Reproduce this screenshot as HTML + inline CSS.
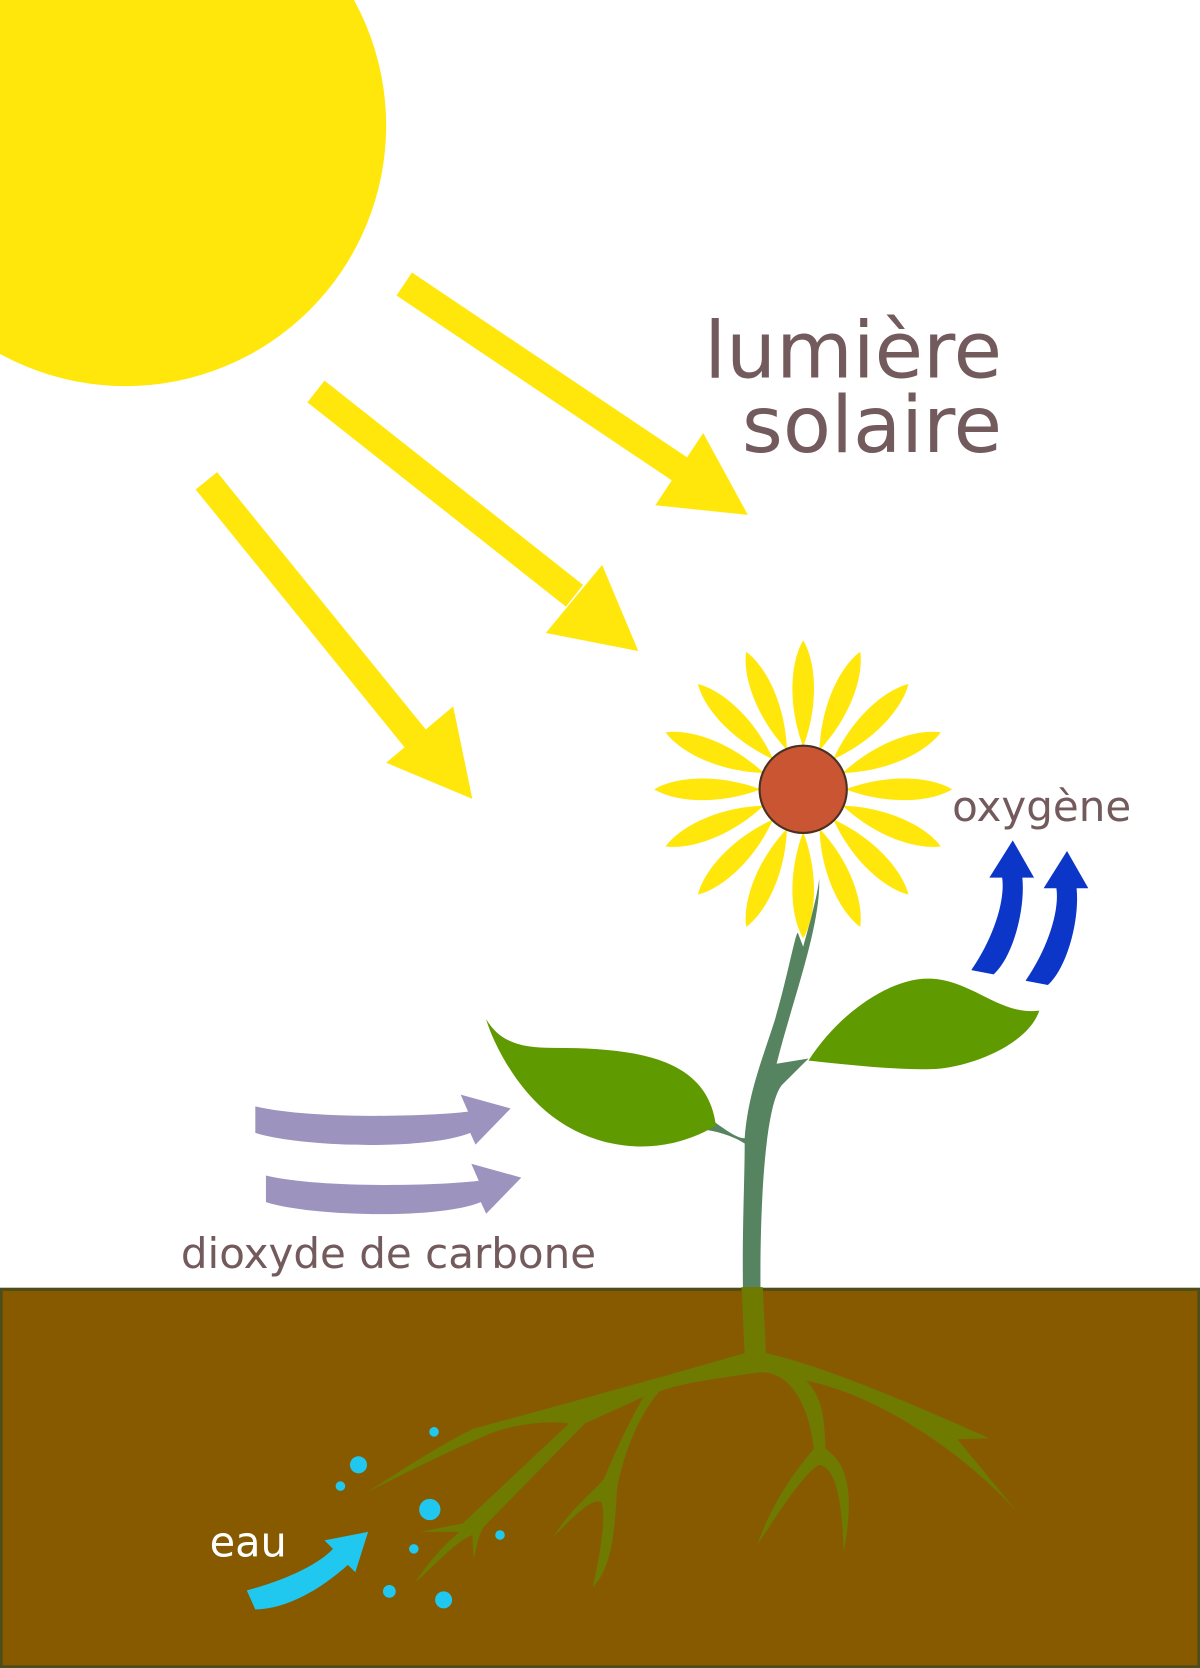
<!DOCTYPE html>
<html><head><meta charset="utf-8"><style>html,body{margin:0;padding:0;background:#fff}svg{display:block}</style></head>
<body>
<svg width="1200" height="1668" viewBox="0 0 1128 1568" preserveAspectRatio="none" xmlns="http://www.w3.org/2000/svg" font-family="'DejaVu Sans','Liberation Sans',sans-serif">
<rect width="1128" height="1568" fill="#fff"/>
<circle cx="118" cy="118" r="245" fill="#ffe70c"/>
<g stroke="#ffe70c" stroke-width="26" fill="none">
<line x1="380" y1="267" x2="645" y2="445"/>
<line x1="297" y1="368" x2="540" y2="560"/>
<line x1="194" y1="452" x2="395" y2="700"/>
</g>
<g fill="#ffe70c">
<polygon points="616,475 703,484 661,407"/>
<polygon points="513,595 600,612 566,531"/>
<polygon points="363,717 444,751 426,664"/>
</g>
<g fill="#735a5c">
<text x="942" y="355" font-size="74" text-anchor="end">lumière</text>
<text x="942" y="425" font-size="74" text-anchor="end">solaire</text>
<text x="895" y="772" font-size="39.5">oxygène</text>
<text x="170" y="1192" font-size="39.5">dioxyde de carbone</text>
</g>
<rect x="1" y="1212" width="1126" height="355" fill="#875a00" stroke="#4d4d1a" stroke-width="3"/>
<path d="M770,825 C772,870 745,940 730,1000 L760,995 L735,1020 C718,1040 712,1150 716,1272 L700,1272 C696,1180 700,1120 700,1075 C690,1068 670,1062 660,1062 L672,1055 C690,1068 695,1070 700,1070 C703,1030 715,1000 728,960 C740,920 748,875 750,877 L755,890 C762,865 770,835 770,825 Z" fill="#568360"/>
<path d="M457,958 C470,980 490,985 520,985 C600,985 665,995 673,1058 C620,1090 560,1080 520,1050 C480,1020 460,970 457,958 Z" fill="#5f9a00"/>
<path d="M760,997 C790,950 840,918 875,920 C915,922 940,955 977,950 C965,985 905,1005 875,1005 C840,1006 790,1000 760,997 Z" fill="#5f9a00"/>
<g fill="#6e7a00">
<path d="M697,1210 L717,1210 L720,1272 C780,1285 880,1330 930,1352 L900,1353 L955,1420 C900,1360 820,1310 758,1298 C775,1315 775,1340 776,1362 C800,1378 802,1410 793,1460 C792,1420 788,1380 770,1377 C755,1385 730,1425 712,1452 C725,1415 745,1385 765,1362 C762,1335 750,1290 715,1290 C680,1295 640,1300 620,1308 C600,1330 585,1370 580,1400 C578,1440 575,1475 557,1492 C565,1460 570,1420 565,1412 C555,1408 535,1430 520,1445 C535,1420 560,1400 568,1390 C580,1360 595,1330 605,1313 L550,1338 L455,1435 C448,1445 448,1460 445,1465 L444,1443 C430,1448 410,1470 390,1488 C405,1465 420,1450 432,1440 L395,1440 L435,1432 L535,1338 C510,1335 480,1340 460,1348 C420,1365 380,1385 345,1403 C380,1380 420,1355 445,1343 C530,1320 620,1295 700,1272 Z"/>
</g>
<g fill="#ffe70c" transform="translate(755,742)">
<g id="p"><path d="M0,-40 C-15,-80 -12,-120 0,-140 C12,-120 15,-80 0,-40Z"/></g>
<use href="#p" transform="rotate(22.5)"/><use href="#p" transform="rotate(45)"/><use href="#p" transform="rotate(67.5)"/>
<use href="#p" transform="rotate(90)"/><use href="#p" transform="rotate(112.5)"/><use href="#p" transform="rotate(135)"/>
<use href="#p" transform="rotate(157.5)"/><use href="#p" transform="rotate(180)"/><use href="#p" transform="rotate(202.5)"/>
<use href="#p" transform="rotate(225)"/><use href="#p" transform="rotate(247.5)"/><use href="#p" transform="rotate(270)"/>
<use href="#p" transform="rotate(292.5)"/><use href="#p" transform="rotate(315)"/><use href="#p" transform="rotate(337.5)"/>
</g>
<circle cx="755" cy="742" r="41" fill="#c95533" stroke="#4a3020" stroke-width="2"/>
<g fill="#9d93bf">
<path d="M240,1040 C290,1052 400,1050 440,1045 L433,1029 L480,1042 L447,1076 L442,1065 C400,1082 280,1078 240,1065 Z"/>
<path d="M250,1105 C300,1117 410,1115 450,1110 L443,1094 L490,1107 L457,1141 L452,1130 C410,1147 290,1143 250,1130 Z"/>
</g>
<g fill="#0c36c8">
<path d="M913,912 C935,880 945,845 942,825 L930,825 L952,790 L972,825 L961,825 C964,855 952,900 934,916 Z"/>
<path d="M964,922 C986,890 996,855 993,835 L981,835 L1003,800 L1023,835 L1012,835 C1015,865 1003,910 985,926 Z"/>
</g>
<g fill="#20c8f0">
<path d="M232,1495 C270,1485 300,1470 313,1456 L305,1448 L346,1440 L334,1478 L327,1471 C300,1495 270,1512 240,1513 Z"/>
<circle cx="337" cy="1377" r="8"/><circle cx="320" cy="1397" r="4.5"/><circle cx="408" cy="1346" r="4.5"/>
<circle cx="404" cy="1419" r="10"/><circle cx="389" cy="1456" r="4.5"/><circle cx="470" cy="1443" r="4.5"/>
<circle cx="366" cy="1496" r="6"/><circle cx="417" cy="1504" r="8"/>
</g>
<text x="197" y="1463" font-size="39" fill="#fff">eau</text>
</svg>
</body></html>
